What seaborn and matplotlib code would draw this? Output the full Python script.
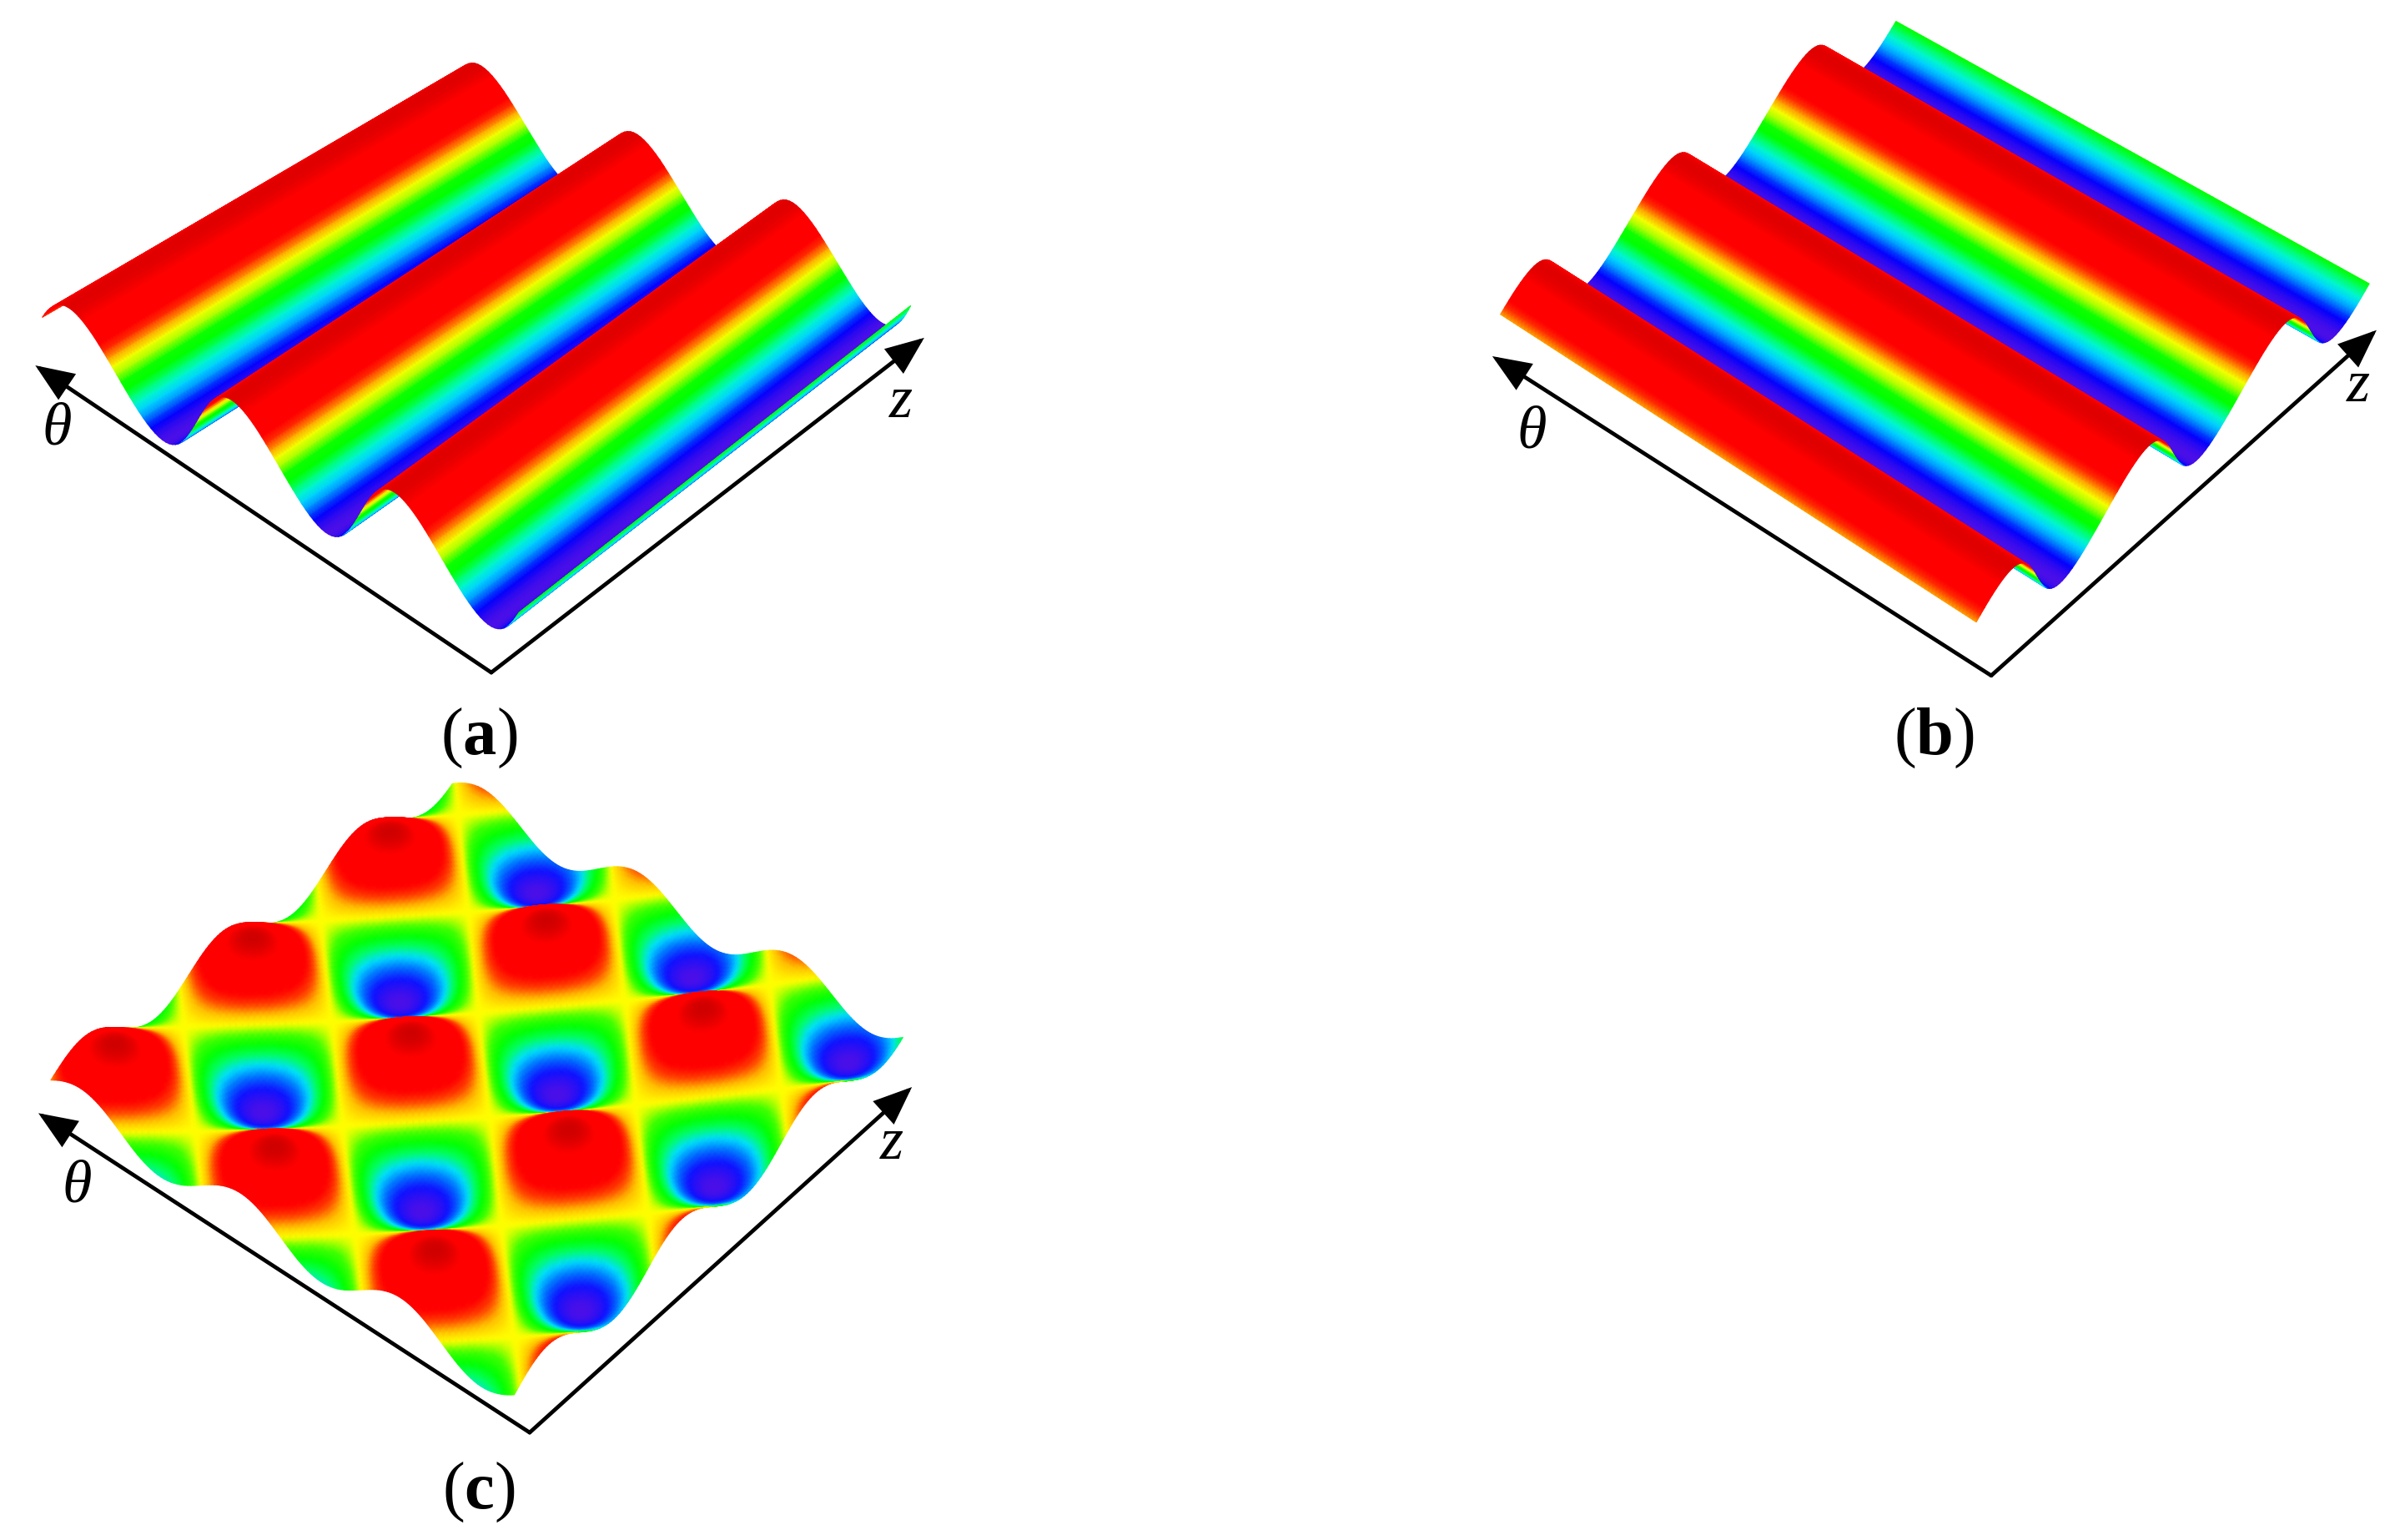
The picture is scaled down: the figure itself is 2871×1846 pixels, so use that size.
import numpy as np
import matplotlib
matplotlib.use('Agg')
import matplotlib.pyplot as plt
import seaborn as sns

wave = [0.00, 0.004, 0.017, 0.038, 0.067, 0.103, 0.146, 0.194, 0.25, 0.309, 0.371, 0.435,
        0.50, 0.565, 0.629, 0.691, 0.75, 0.806, 0.854, 0.897, 0.933, 0.962, 0.983, 0.996,
        1.00, 0.996, 0.983, 0.962, 0.933, 0.897, 0.854, 0.806, 0.75, 0.691, 0.629, 0.565,
        0.50, 0.435, 0.371, 0.309, 0.25, 0.194, 0.146, 0.103, 0.067, 0.038, 0.017, 0.004]

# which part of the wave each panel shows (samples, 48 per period)
theta_span_ab = (-10, 130)
z_span_ab = (14, 155)
theta_span_c = (-10, 130)
z_span_c = (12, 153)

ridge_colors = ['#4b0fe8', '#0000ff', '#0090ff', '#00eeff', '#00ffa0', '#00ff00', '#00ff00', '#a0ff00',
                '#ffff00', '#ff9000', '#ff0000', '#ff0000', '#ff0000', '#ff0000', '#e00000']
mixed_colors = ['#4b0fe8', '#1010ff', '#0070ff', '#00e0ff', '#00ff60', '#00ff00', '#40ff00', '#ffff00',
                '#ffc000', '#ff4000', '#ff0000', '#ff0000', '#ff0000', '#ff0000', '#d00000']

panel_labels = ['a', 'b', 'c']

sns.set_theme(style='white')
plt.rcParams['font.family'] = ['Liberation Serif', 'DejaVu Serif']
plt.rcParams['mathtext.fontset'] = 'custom'
plt.rcParams['mathtext.rm'] = 'Liberation Serif'
plt.rcParams['mathtext.bf'] = 'Liberation Serif:bold'

ridge_cmap = sns.blend_palette(ridge_colors, n_colors=256, as_cmap=True)
mixed_cmap = sns.blend_palette(mixed_colors, n_colors=256, as_cmap=True)

fig = plt.figure(figsize=(28.71, 18.46), dpi=100)
ax = fig.add_axes([0, 0, 1, 1])
ax.set_xlim(0, 1560)
ax.set_ylim(1003, 0)
ax.axis('off')


def wave_part(span):
    idx = np.arange(*span)[::-1]
    return idx / 48, np.take(wave, idx, mode='wrap')


def draw_surface(h, theta_t, z_t, anchor, anchor_t, p_theta, p_z, up, twist, cmap):
    # far rows first so the nearer ridges paint over them
    tt, zz = np.meshgrid(theta_t - anchor_t[0], z_t - anchor_t[1], indexing='ij')
    x = anchor[0] + tt * p_theta[0] + zz * p_z[0] + tt * zz * twist[0] + (h - 1) * up[0]
    y = anchor[1] + tt * p_theta[1] + zz * p_z[1] + tt * zz * twist[1] + (h - 1) * up[1]
    ax.pcolormesh(x, y, h, shading='gouraud', cmap=cmap, vmin=0, vmax=1, rasterized=True)


def draw_axes(corner, theta_tip, z_tip, theta_pos, z_pos, label, label_pos):
    for tip in (theta_tip, z_tip):
        ax.annotate('', xy=tip, xytext=corner,
                    arrowprops=dict(arrowstyle='-|>,head_length=27,head_width=11', mutation_scale=1,
                                    color='black', lw=3.4, shrinkA=0, shrinkB=0, joinstyle='miter'))
    ax.text(*theta_pos, 'θ', fontsize=52, style='italic', ha='center', va='center', color='black')
    ax.text(*z_pos, 'z', fontsize=52, style='italic', ha='center', va='center', color='black')
    ax.text(*label_pos, r'($\mathbf{' + label + '}$)', fontsize=58, ha='center', va='center', color='black')


theta_t, theta_h = wave_part(theta_span_ab)
z_t, z_h = wave_part(z_span_ab)

# (a) ridges run along z
h_a = np.tile(theta_h[:, None], (1, z_h.size))
draw_surface(h_a, theta_t, z_t, (256, 320), (0.5, z_span_ab[0] / 48), (-106, -60), (88.6, -64.8),
             (-11, -58), (1.55, 5.3), ridge_cmap)
draw_axes((320, 438), (23, 238), (602, 220), (37, 280), (587, 262), panel_labels[0], (312, 481))

# (b) ridges run along theta
h_b = np.tile(z_h, (theta_h.size, 1))
draw_surface(h_b, theta_t, z_t, (1311, 370), (theta_span_ab[0] / 48, 0.5), (-107, -68.5), (89, -80),
             (14, -50), (0.2, 3.5), ridge_cmap)
draw_axes((1297, 440), (972, 232), (1548, 215), (998, 282), (1536, 252), panel_labels[1], (1260, 481))

# (c) both waves together
theta_t, theta_h = wave_part(theta_span_c)
z_t, z_h = wave_part(z_span_c)
h_c = (theta_h[:, None] + z_h[None, :]) / 2
draw_surface(h_c, theta_t, z_t, (283, 814), (0.5, 0.5), (-104, -67), (87.5, -78.5),
             (0, -47), (1, 4.7), mixed_cmap)
draw_axes((345, 933), (25, 725), (594, 708), (50, 773), (581, 745), panel_labels[2], (312, 972))

fig.savefig('out.png', dpi=100)
